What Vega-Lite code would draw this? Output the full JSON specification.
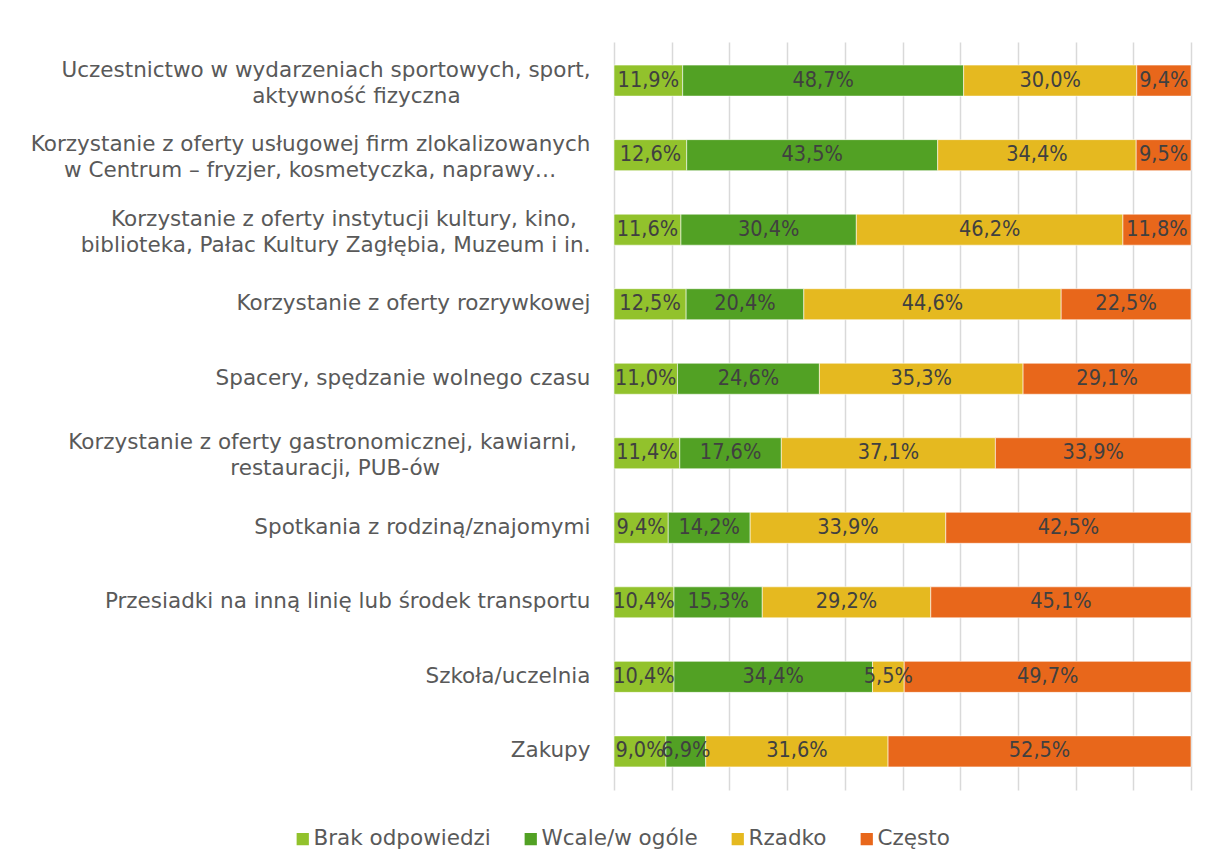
{
  "$schema": "https://vega.github.io/schema/vega-lite/v6.json",
  "width": 577,
  "height": 748,
  "autosize": "none",
  "padding": {"left": 614, "top": 42, "right": 15, "bottom": 77},
  "background": "#ffffff",
  "config": {
    "locale": {"number": {"decimal": ",", "thousands": " ", "grouping": [3], "currency": ["", " zł"]}},
    "view": {"stroke": null},
    "font": "DejaVu Sans"
  },
  "data": {
    "values": [
      {"cat": "Uczestnictwo w wydarzeniach sportowych, sport,|aktywność fizyczna", "resp": "Brak odpowiedzi", "k": 1, "v": 0.119},
      {"cat": "Uczestnictwo w wydarzeniach sportowych, sport,|aktywność fizyczna", "resp": "Wcale/w ogóle", "k": 2, "v": 0.487},
      {"cat": "Uczestnictwo w wydarzeniach sportowych, sport,|aktywność fizyczna", "resp": "Rzadko", "k": 3, "v": 0.300},
      {"cat": "Uczestnictwo w wydarzeniach sportowych, sport,|aktywność fizyczna", "resp": "Często", "k": 4, "v": 0.094},
      {"cat": "Korzystanie z oferty usługowej firm zlokalizowanych|w Centrum – fryzjer, kosmetyczka, naprawy…", "resp": "Brak odpowiedzi", "k": 1, "v": 0.126},
      {"cat": "Korzystanie z oferty usługowej firm zlokalizowanych|w Centrum – fryzjer, kosmetyczka, naprawy…", "resp": "Wcale/w ogóle", "k": 2, "v": 0.435},
      {"cat": "Korzystanie z oferty usługowej firm zlokalizowanych|w Centrum – fryzjer, kosmetyczka, naprawy…", "resp": "Rzadko", "k": 3, "v": 0.344},
      {"cat": "Korzystanie z oferty usługowej firm zlokalizowanych|w Centrum – fryzjer, kosmetyczka, naprawy…", "resp": "Często", "k": 4, "v": 0.095},
      {"cat": "Korzystanie z oferty instytucji kultury, kino,|biblioteka, Pałac Kultury Zagłębia, Muzeum i in.", "resp": "Brak odpowiedzi", "k": 1, "v": 0.116},
      {"cat": "Korzystanie z oferty instytucji kultury, kino,|biblioteka, Pałac Kultury Zagłębia, Muzeum i in.", "resp": "Wcale/w ogóle", "k": 2, "v": 0.304},
      {"cat": "Korzystanie z oferty instytucji kultury, kino,|biblioteka, Pałac Kultury Zagłębia, Muzeum i in.", "resp": "Rzadko", "k": 3, "v": 0.462},
      {"cat": "Korzystanie z oferty instytucji kultury, kino,|biblioteka, Pałac Kultury Zagłębia, Muzeum i in.", "resp": "Często", "k": 4, "v": 0.118},
      {"cat": "Korzystanie z oferty rozrywkowej", "resp": "Brak odpowiedzi", "k": 1, "v": 0.125},
      {"cat": "Korzystanie z oferty rozrywkowej", "resp": "Wcale/w ogóle", "k": 2, "v": 0.204},
      {"cat": "Korzystanie z oferty rozrywkowej", "resp": "Rzadko", "k": 3, "v": 0.446},
      {"cat": "Korzystanie z oferty rozrywkowej", "resp": "Często", "k": 4, "v": 0.225},
      {"cat": "Spacery, spędzanie wolnego czasu", "resp": "Brak odpowiedzi", "k": 1, "v": 0.110},
      {"cat": "Spacery, spędzanie wolnego czasu", "resp": "Wcale/w ogóle", "k": 2, "v": 0.246},
      {"cat": "Spacery, spędzanie wolnego czasu", "resp": "Rzadko", "k": 3, "v": 0.353},
      {"cat": "Spacery, spędzanie wolnego czasu", "resp": "Często", "k": 4, "v": 0.291},
      {"cat": "Korzystanie z oferty gastronomicznej, kawiarni,|restauracji, PUB-ów", "resp": "Brak odpowiedzi", "k": 1, "v": 0.114},
      {"cat": "Korzystanie z oferty gastronomicznej, kawiarni,|restauracji, PUB-ów", "resp": "Wcale/w ogóle", "k": 2, "v": 0.176},
      {"cat": "Korzystanie z oferty gastronomicznej, kawiarni,|restauracji, PUB-ów", "resp": "Rzadko", "k": 3, "v": 0.371},
      {"cat": "Korzystanie z oferty gastronomicznej, kawiarni,|restauracji, PUB-ów", "resp": "Często", "k": 4, "v": 0.339},
      {"cat": "Spotkania z rodziną/znajomymi", "resp": "Brak odpowiedzi", "k": 1, "v": 0.094},
      {"cat": "Spotkania z rodziną/znajomymi", "resp": "Wcale/w ogóle", "k": 2, "v": 0.142},
      {"cat": "Spotkania z rodziną/znajomymi", "resp": "Rzadko", "k": 3, "v": 0.339},
      {"cat": "Spotkania z rodziną/znajomymi", "resp": "Często", "k": 4, "v": 0.425},
      {"cat": "Przesiadki na inną linię lub środek transportu", "resp": "Brak odpowiedzi", "k": 1, "v": 0.104},
      {"cat": "Przesiadki na inną linię lub środek transportu", "resp": "Wcale/w ogóle", "k": 2, "v": 0.153},
      {"cat": "Przesiadki na inną linię lub środek transportu", "resp": "Rzadko", "k": 3, "v": 0.292},
      {"cat": "Przesiadki na inną linię lub środek transportu", "resp": "Często", "k": 4, "v": 0.451},
      {"cat": "Szkoła/uczelnia", "resp": "Brak odpowiedzi", "k": 1, "v": 0.104},
      {"cat": "Szkoła/uczelnia", "resp": "Wcale/w ogóle", "k": 2, "v": 0.344},
      {"cat": "Szkoła/uczelnia", "resp": "Rzadko", "k": 3, "v": 0.055},
      {"cat": "Szkoła/uczelnia", "resp": "Często", "k": 4, "v": 0.497},
      {"cat": "Zakupy", "resp": "Brak odpowiedzi", "k": 1, "v": 0.090},
      {"cat": "Zakupy", "resp": "Wcale/w ogóle", "k": 2, "v": 0.069},
      {"cat": "Zakupy", "resp": "Rzadko", "k": 3, "v": 0.316},
      {"cat": "Zakupy", "resp": "Często", "k": 4, "v": 0.525}
    ]
  },
  "encoding": {
    "y": {
      "field": "cat",
      "type": "nominal",
      "sort": null,
      "scale": {"paddingInner": 0.584, "paddingOuter": 0.31},
      "axis": {
        "title": null,
        "ticks": false,
        "domain": false,
        "labelPadding": 24,
        "labelFontSize": 21.5,
        "labelLineHeight": 26,
        "labelColor": "#595959",
        "labelLimit": 0,
        "labelOffset": {"condition": {"test": "indexof(datum.value, '|') >= 0", "value": -10}, "value": 0},
        "labelExpr": "indexof(datum.label, '|') < 0 ? datum.label : [split(datum.label, '|')[0] + substring('\u00a0\u00a0\u00a0\u00a0\u00a0\u00a0\u00a0\u00a0\u00a0\u00a0\u00a0\u00a0\u00a0\u00a0\u00a0\u00a0\u00a0\u00a0\u00a0\u00a0\u00a0\u00a0\u00a0\u00a0', 0, (indexof(datum.label, 'kino') >= 0 || indexof(datum.label, 'kawiarni') >= 0 ? 2 : 0)) + '\u2060', split(datum.label, '|')[1] + substring('\u00a0\u00a0\u00a0\u00a0\u00a0\u00a0\u00a0\u00a0\u00a0\u00a0\u00a0\u00a0\u00a0\u00a0\u00a0\u00a0\u00a0\u00a0\u00a0\u00a0\u00a0\u00a0\u00a0\u00a0', 0, (indexof(datum.label, 'fizyczna') >= 0 ? 19 : indexof(datum.label, 'naprawy') >= 0 ? 5 : indexof(datum.label, 'PUB') >= 0 ? 22 : 0)) + '\u2060']"
      }
    },
    "x": {
      "field": "v",
      "type": "quantitative",
      "stack": "zero",
      "scale": {"domain": [0, 1], "nice": false},
      "axis": {
        "title": null,
        "labels": false,
        "ticks": false,
        "domain": false,
        "grid": true,
        "values": [0, 0.1, 0.2, 0.3, 0.4, 0.5, 0.6, 0.7, 0.8, 0.9, 1],
        "gridColor": "#d9d9d9",
        "gridWidth": 1.5
      }
    },
    "order": {"field": "k", "type": "quantitative"}
  },
  "layer": [
    {
      "mark": {"type": "bar", "stroke": "#ffffff", "strokeWidth": 0.8, "strokeOpacity": 0.7},
      "encoding": {
        "color": {
          "field": "resp",
          "type": "nominal",
          "sort": ["Brak odpowiedzi", "Wcale/w ogóle", "Rzadko", "Często"],
          "scale": {
            "domain": ["Brak odpowiedzi", "Wcale/w ogóle", "Rzadko", "Często"],
            "range": ["#92c22c", "#52a124", "#e5b920", "#e8671b"]
          },
          "legend": {
            "title": null,
            "orient": "none",
            "direction": "horizontal",
            "legendX": -322,
            "legendY": 786,
            "symbolType": "square",
            "symbolSize": 150,
            "symbolStrokeWidth": 0,
            "labelFontSize": 21.5,
            "labelColor": "#595959",
            "labelOffset": 0,
            "columnPadding": 29,
            "labelLimit": 0
          }
        }
      }
    },
    {
      "mark": {"type": "text", "fontSize": 21.5, "font": "DejaVu Sans Condensed", "color": "#404040"},
      "encoding": {
        "x": {"field": "v", "type": "quantitative", "stack": "zero", "bandPosition": 0.5},
        "detail": {"field": "resp"},
        "text": {"field": "v", "type": "quantitative", "format": ".1%"}
      }
    }
  ]
}
